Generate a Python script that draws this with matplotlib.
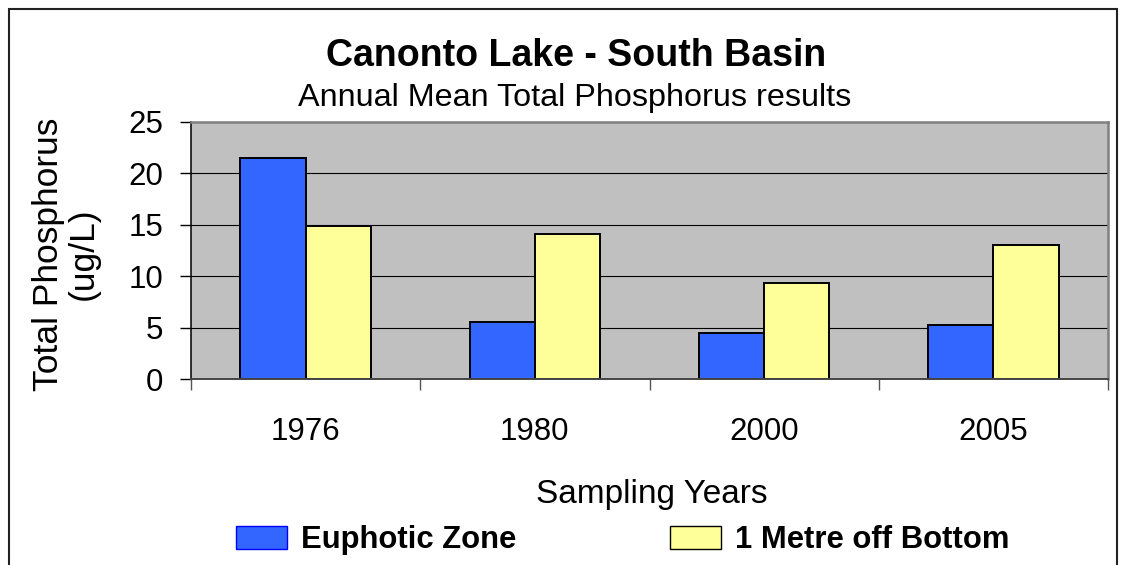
import matplotlib
matplotlib.use("Agg")
import matplotlib.pyplot as plt
from matplotlib.patches import Patch, Rectangle
import numpy as np

# ---- data ----
years = ["1976", "1980", "2000", "2005"]
euphotic = [21.5, 5.6, 4.5, 5.3]
off_bottom = [14.9, 14.1, 9.3, 13.0]
series_names = ["Euphotic Zone", "1 Metre off Bottom"]
yticks = [0, 5, 10, 15, 20, 25]

W, H = 1127, 565
plt.rcParams['font.family'] = ['Liberation Sans', 'DejaVu Sans']
fig = plt.figure(figsize=(W / 100, H / 100), dpi=100)
fig.patch.set_facecolor('white')

def fx(px):
    return px / W

def fy(py):
    return 1 - py / H

ax = fig.add_axes([fx(191), fy(379.3), fx(1108) - fx(191), fy(121.7) - fy(379.3)])
ax.set_facecolor('#C0C0C0')

x = np.arange(len(years))
bw = 0.285
ax.bar(x - bw / 2, euphotic, bw, color='#3366FF', edgecolor='black', linewidth=1.4, zorder=3)
ax.bar(x + bw / 2, off_bottom, bw, color='#FFFF99', edgecolor='black', linewidth=1.4, zorder=3)

ax.set_xlim(-0.5, len(years) - 0.5)
ax.set_ylim(0, 25)
ax.set_yticks(yticks)
ax.set_yticklabels([str(v) for v in yticks], fontsize=22.5)
for v in yticks[1:-1]:
    ax.axhline(v, color='black', linewidth=0.8, zorder=1)

ax.set_xticks(x)
ax.set_xticklabels(years, fontsize=22.5)
ax.set_xticks(np.arange(-0.5, len(years), 1.0), minor=True)
ax.tick_params(axis='x', which='major', length=0, pad=27)
ax.tick_params(axis='x', which='minor', length=8, width=1.0, color='#555555', direction='out')
ax.tick_params(axis='y', which='major', length=8, width=1.0, color='black', direction='out', pad=12)

for s in ['top', 'right']:
    ax.spines[s].set_color('#808080')
    ax.spines[s].set_linewidth(1.8)
ax.spines['left'].set_color('black')
ax.spines['left'].set_linewidth(1.1)
ax.spines['bottom'].set_color('#444444')
ax.spines['bottom'].set_linewidth(1.4)
ax.spines['bottom'].set_zorder(4)

# titles
fig.text(fx(576), fy(66), "Canonto Lake - South Basin", ha='center', va='baseline',
         fontsize=27, fontweight='bold')
fig.text(fx(574.5), fy(106), "Annual Mean Total Phosphorus results", ha='center', va='baseline',
         fontsize=23.3)

# axis labels
fig.text(fx(66), fy(254), "Total Phosphorus\n(ug/L)", ha='center', va='center',
         rotation=90, fontsize=25.5, linespacing=1.08, multialignment='center')
fig.text(fx(652), fy(503), "Sampling Years", ha='center', va='baseline', fontsize=24)

# legend
handles = [Patch(facecolor='#3366FF', edgecolor='#0000FF', linewidth=1.0),
           Patch(facecolor='#FFFF99', edgecolor='black', linewidth=1.0)]
leg = fig.legend(handles, series_names, loc='center left',
                 bbox_to_anchor=(fx(236), fy(540)), ncol=2, frameon=False,
                 prop={'size': 22.3, 'weight': 'bold'},
                 handlelength=1.65, handleheight=0.77, handletextpad=0.44,
                 columnspacing=4.97, borderaxespad=0, borderpad=0)

# outer chart border
fig.patches.append(Rectangle((fx(9), fy(600)), fx(1117) - fx(9), fy(9) - fy(600),
                             transform=fig.transFigure, fill=False,
                             edgecolor='#222222', linewidth=1.5, clip_on=False))

fig.savefig("out.png", dpi=100, facecolor='white')
